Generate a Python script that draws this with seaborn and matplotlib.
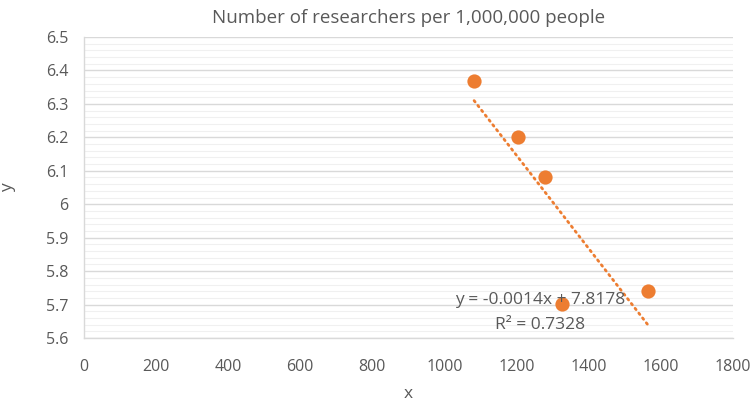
import numpy as np
import pandas as pd
import matplotlib
matplotlib.use("Agg")
import matplotlib.pyplot as plt
import seaborn as sns
from matplotlib.ticker import MultipleLocator

x_vals = [1082, 1204, 1278, 1327, 1565]
y_vals = [6.369, 6.202, 6.082, 5.701, 5.740]
title = "Number of researchers per 1,000,000 people"
eq_text = "y = -0.0014x + 7.8178"
r2_text = "R² = 0.7328"

df = pd.DataFrame({"x": x_vals, "y": y_vals})

sns.set_theme(style="white")
plt.rcParams['font.family'] = ['Open Sans', 'DejaVu Sans']

orange = "#ED7D31"
gray_txt = "#595959"

fig, ax = plt.subplots(figsize=(7.56, 4.05), dpi=100)
fig.subplots_adjust(left=0.111, right=0.9696, top=0.9086, bottom=0.1654)

ax.set_xlim(0, 1800)
ax.set_ylim(5.6, 6.5)
ax.xaxis.set_major_locator(MultipleLocator(200))
ax.yaxis.set_major_locator(MultipleLocator(0.1))
ax.yaxis.set_minor_locator(MultipleLocator(0.02))
ax.grid(axis="y", which="major", color="#d9d9d9", linewidth=1.0)
ax.grid(axis="y", which="minor", color="#f0f0f0", linewidth=0.8)
ax.set_axisbelow(True)

# trendline
coef = np.polyfit(df["x"], df["y"], 1)
xs = np.array([min(x_vals), max(x_vals)])
ax.plot(xs, np.polyval(coef, xs), color=orange, linewidth=2.0,
        linestyle=(0, (0.6, 1.6)), dash_capstyle="round", zorder=2)

sns.scatterplot(data=df, x="x", y="y", ax=ax, color=orange, s=105,
                edgecolor=orange, linewidth=0, zorder=3)

ax.text(1265, 5.714, eq_text, ha="center", va="center", fontsize=12.5, color=gray_txt, zorder=4)
ax.text(1265, 5.640, r2_text, ha="center", va="center", fontsize=12.5, color=gray_txt, zorder=4)

for s in ["top", "right"]:
    ax.spines[s].set_visible(False)
for s in ["left", "bottom"]:
    ax.spines[s].set_color("#d9d9d9")
    ax.spines[s].set_linewidth(1.0)

def fmt_y(v):
    s = f"{v:.1f}"
    return "6" if s == "6.0" else s

yt = np.round(np.arange(5.6, 6.5001, 0.1), 1)
ax.set_yticks(yt)
ax.set_yticklabels([fmt_y(v) for v in yt])
xt = np.arange(0, 1801, 200)
ax.set_xticks(xt)
ax.set_xticklabels([str(v) for v in xt])

ax.tick_params(axis="both", which="major", length=5, width=1, color="#d9d9d9",
               labelcolor=gray_txt, labelsize=11.5, direction="out")
ax.tick_params(axis="both", which="minor", length=0)
ax.tick_params(axis="x", pad=10)
ax.tick_params(axis="y", pad=6)

ax.set_xlabel("x", fontsize=12.5, color=gray_txt, labelpad=8)
ax.set_ylabel("y", fontsize=12.5, color=gray_txt, labelpad=22)
ax.set_title(title, fontsize=13.5, color=gray_txt, pad=10)

fig.savefig("out.png", dpi=100)
